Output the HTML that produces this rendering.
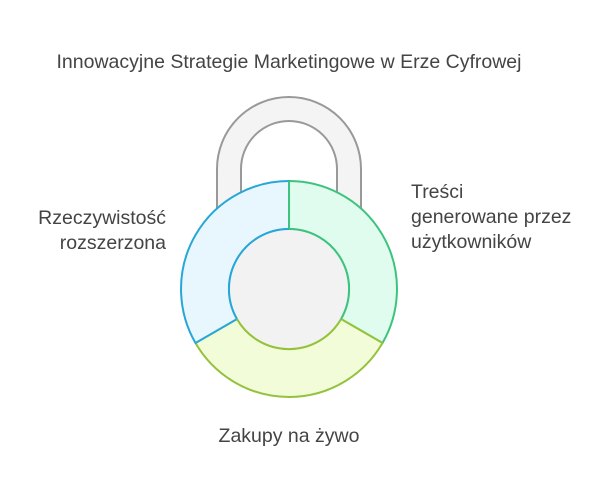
<!DOCTYPE html>
<html><head><style>body{margin:0;background:#fff}</style></head><body>
<svg width="614" height="495" xmlns="http://www.w3.org/2000/svg" style="font-family:'Liberation Sans',sans-serif">
<text x="289" y="68" text-anchor="middle" font-size="19.5" fill="#444">Innowacyjne Strategie Marketingowe w Erze Cyfrowej</text>
<path d="M217 260 V169 A72 72 0 0 1 361 169 V260 H337 V169 A48 48 0 0 0 241 169 V260 Z" fill="#f4f4f4" stroke="#999" stroke-width="2"/>
<path d="M289 181 A108 108 0 0 1 382.5 343 L341 319 A60 60 0 0 0 289 229 Z" fill="#e0fcee" stroke="#3cc47f" stroke-width="2"/>
<path d="M382.5 343 A108 108 0 0 1 195.5 343 L237 319 A60 60 0 0 0 341 319 Z" fill="#f2fcd8" stroke="#95c23d" stroke-width="2"/>
<path d="M195.5 343 A108 108 0 0 1 289 181 L289 229 A60 60 0 0 0 237 319 Z" fill="#e8f7fd" stroke="#27a7d8" stroke-width="2"/>
<line x1="289" y1="181" x2="289" y2="229" stroke="#3cc47f" stroke-width="2"/>
<circle cx="289" cy="289" r="60" fill="#f2f2f2" stroke="none"/>
<path d="M289 229 A60 60 0 0 1 341 319" fill="none" stroke="#3cc47f" stroke-width="2"/>
<path d="M341 319 A60 60 0 0 1 237 319" fill="none" stroke="#95c23d" stroke-width="2"/>
<path d="M237 319 A60 60 0 0 1 289 229" fill="none" stroke="#27a7d8" stroke-width="2"/>
<g font-size="19.5" fill="#444">
<text x="166" y="224" text-anchor="end">Rzeczywistość</text>
<text x="166" y="249" text-anchor="end">rozszerzona</text>
<text x="411" y="198">Treści</text>
<text x="411" y="223">generowane przez</text>
<text x="411" y="248">użytkowników</text>
<text x="289" y="442" text-anchor="middle">Zakupy na żywo</text>
</g>
</svg>
</body></html>
